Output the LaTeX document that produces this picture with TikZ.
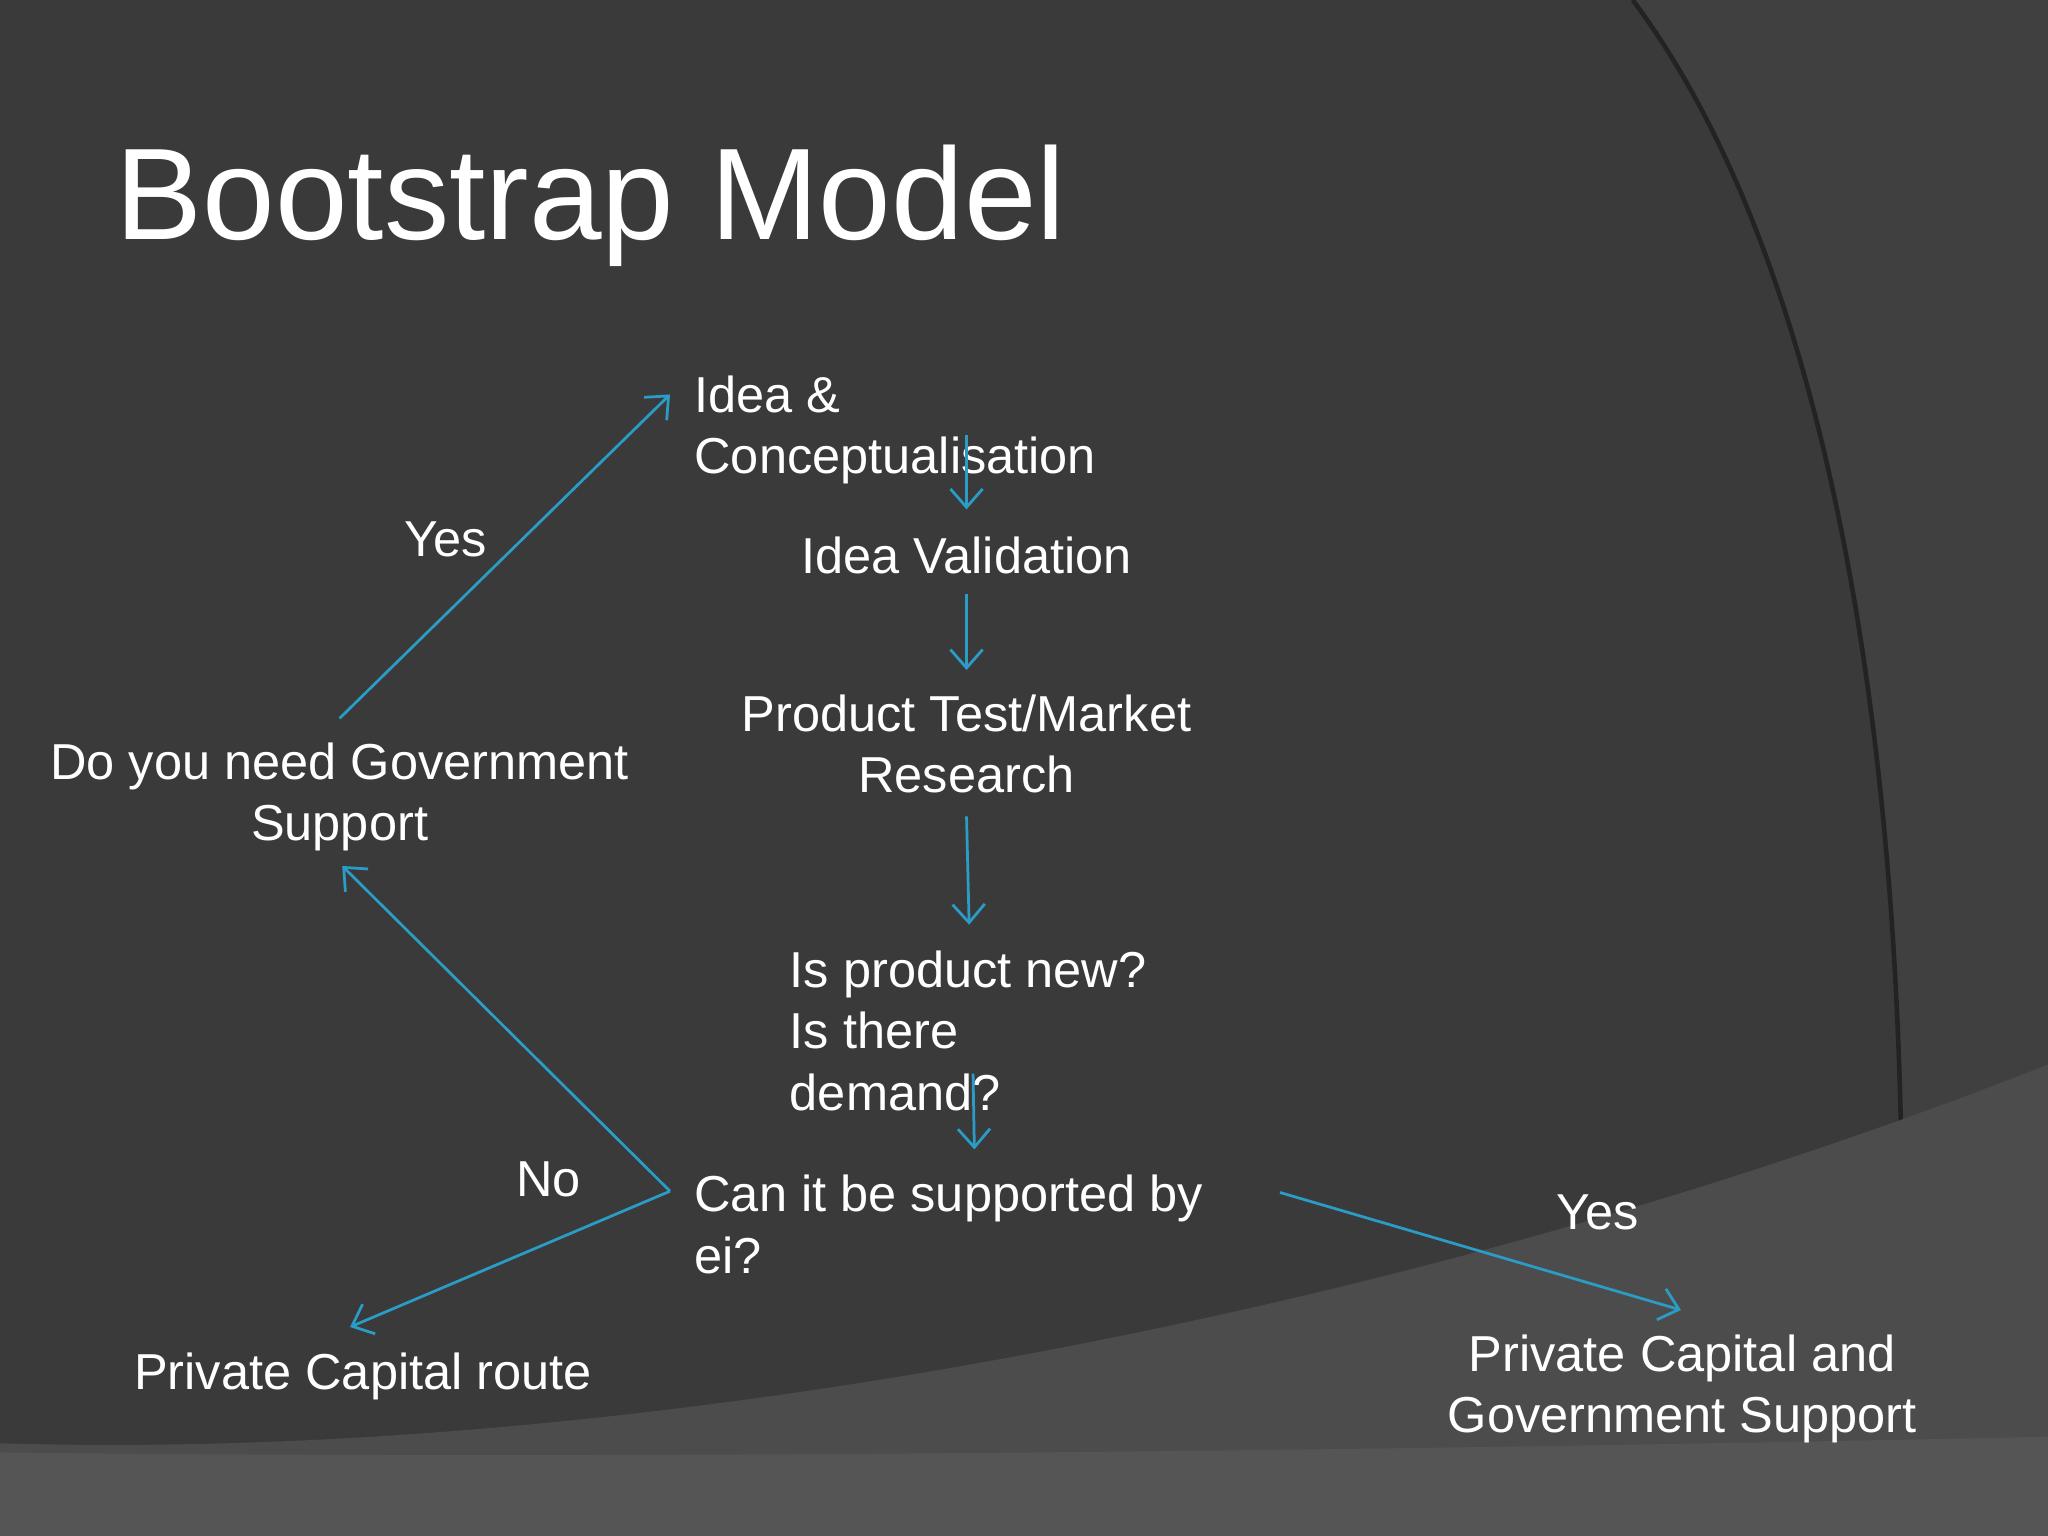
\documentclass[tikz,border=0pt]{standalone}
\usepackage{fontspec}
\setmainfont{Liberation Sans}
\usetikzlibrary{arrows.meta}
\begin{document}
\begin{tikzpicture}[x=0.01cm,y=-0.01cm,
  lbl/.style={text=white,font=\fontsize{11pt}{13.4pt}\selectfont,inner sep=0pt}]
\definecolor{bg}{HTML}{3A3A3B}
\definecolor{bgr}{HTML}{404041}
\definecolor{bgb}{HTML}{4C4C4D}
\definecolor{bgs}{HTML}{555556}
\definecolor{arrc}{HTML}{2A9CC6}
\tikzset{arr/.style={draw=arrc,line width=0.6pt,-{Straight Barb[length=4pt,width=7pt]}}}
\useasboundingbox (0,0) rectangle (1568,1176);
\fill[bg] (0,0) rectangle (1568,1176);
\fill[bgr] (1250,0) .. controls (1400,200) and (1480,600) .. (1450,1176) -- (1568,1176) -- (1568,0) -- cycle;
\draw[black!40!bg,line width=1pt] (1250,0) .. controls (1400,200) and (1480,600) .. (1450,1176);
\fill[bgb] (0,1105) .. controls (500,1120) and (1100,1000) .. (1568,815) -- (1568,1176) -- (0,1176) -- cycle;
\fill[bgs] (0,1112) .. controls (500,1118) and (1100,1110) .. (1568,1100) -- (1568,1176) -- (0,1176) -- cycle;

\node[text=white,font=\fontsize{28.4pt}{34pt}\selectfont,anchor=base west,inner sep=0pt] (title) at (88,183) {Bootstrap Model};

\node[lbl,align=left,anchor=north west] (idea) at (531,287) {Idea \&\\Conceptualisation};
\node[lbl,anchor=base] (val) at (740,439) {Idea Validation};
\node[lbl,align=center,anchor=north] (pt) at (740,531) {Product Test/Market\\Research};
\node[lbl,align=left,anchor=north west] (new) at (604,727) {Is product new?\\Is there\\demand?};
\node[lbl,align=left,anchor=north west] (ei) at (531,899) {Can it be supported by\\ei?};
\node[lbl,align=center,anchor=north] (gov) at (260,568) {Do you need Government\\Support};
\node[lbl,anchor=base] (pcr) at (278,1064) {Private Capital route};
\node[lbl,align=center,anchor=north] (pcg) at (1288,1021) {Private Capital and\\Government Support};
\node[lbl] (yes1) at (341,413) {Yes};
\node[lbl] (no) at (420,903) {No};
\node[lbl] (yes2) at (1223,928) {Yes};

\coordinate (a1) at (260,550); \coordinate (a2) at (513,302);
\coordinate (b1) at (740,333); \coordinate (b2) at (740,390);
\coordinate (c1) at (740,455); \coordinate (c2) at (740,513);
\coordinate (d1) at (740,625); \coordinate (d2) at (742,708);
\coordinate (e1) at (745,822); \coordinate (e2) at (746,880);
\coordinate (f) at (513,912); \coordinate (f1) at (262,663); \coordinate (f2) at (268,1016);
\coordinate (g1) at (980,913); \coordinate (g2) at (1287,1003);
\draw[arr] (a1) -- (a2);
\draw[arr] (b1) -- (b2);
\draw[arr] (c1) -- (c2);
\draw[arr] (d1) -- (d2);
\draw[arr] (e1) -- (e2);
\draw[arr] (f) -- (f1);
\draw[arr] (f) -- (f2);
\draw[arr] (g1) -- (g2);
\end{tikzpicture}
\end{document}
